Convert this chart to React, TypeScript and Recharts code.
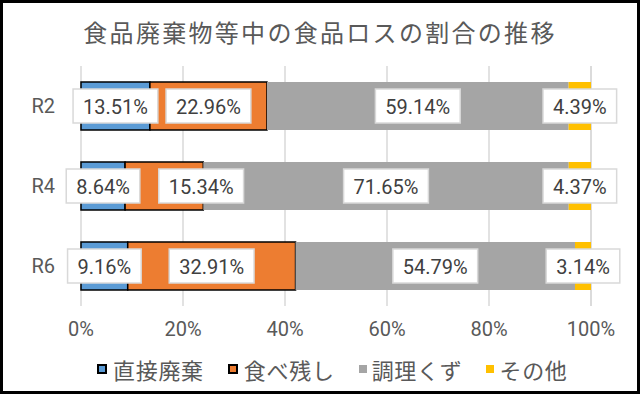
import React from "react";
import { BarChart, Bar, XAxis, YAxis, CartesianGrid, LabelList } from "recharts";

// 食品廃棄物等中の食品ロスの割合（%）
const categories = ["R2", "R4", "R6"];
const directWaste = [13.51, 8.64, 9.16];
const leftovers = [22.96, 15.34, 32.91];
const trimmings = [59.14, 71.65, 54.79];
const others = [4.39, 4.37, 3.14];
const xTicks = [0, 20, 40, 60, 80, 100];
const seriesNames = ["直接廃棄", "食べ残し", "調理くず", "その他"];
const seriesKeys = ["direct", "leftover", "trim", "other"];
const seriesColors = ["#5B9BD5", "#ED7D31", "#A5A5A5", "#FFC000"];
const seriesOutlined = [true, true, false, false];

const data = categories.map((name, i) => ({
  name,
  direct: directWaste[i],
  leftover: leftovers[i],
  trim: trimmings[i],
  other: others[i],
}));

const JP_FONT = "'Noto Sans CJK JP', sans-serif";
const NUM_FONT = "Roboto, sans-serif";

// the R4 食べ残し label was dragged right in the original so it doesn't hit 8.64%
const labelNudge: Record<string, number> = { "leftover-1": 37 };

const makeBoxLabel = (key: string) => (props: any) => {
  const { x, y, width, height, value, index } = props;
  const text = `${Number(value).toFixed(2)}%`;
  const digits = text.replace(/[^0-9]/g, "").length;
  const cx = Number(x) + Number(width) / 2 + (labelNudge[`${key}-${index}`] || 0);
  const cy = Number(y) + Number(height) / 2;
  const w = digits * 11.2 + 5.3 + 14.7 + 20;
  const h = 34;
  return (
    <g>
      <rect x={cx - w / 2} y={cy - h / 2} width={w} height={h} fill="#fff" stroke="#D9D9D9" strokeWidth={1.5} />
      <text x={cx} y={cy + 1} textAnchor="middle" dominantBaseline="central" fontFamily={NUM_FONT} fontSize={20} fill="#404040">
        {text}
      </text>
    </g>
  );
};

export default function App() {
  return (
    <div
      style={{
        position: "absolute",
        left: 0,
        top: 0,
        width: 640,
        height: 394,
        boxSizing: "border-box",
        border: "3px solid #000",
        background: "#fff",
      }}
    >
      <div
        style={{
          position: "absolute",
          top: 16,
          left: 0,
          width: 634,
          textAlign: "center",
          fontFamily: JP_FONT,
          fontSize: 24,
          letterSpacing: 2.3,
          lineHeight: "26px",
          color: "#595959",
        }}
      >
        食品廃棄物等中の食品ロスの割合の推移
      </div>

      <BarChart
        width={634}
        height={388}
        data={data}
        layout="vertical"
        margin={{ top: 63, right: 46, bottom: 0, left: 0 }}
        barSize={48}
      >
        <CartesianGrid horizontal={false} stroke="#D9D9D9" strokeWidth={1.5} />
        <XAxis
          type="number"
          domain={[0, 100]}
          ticks={xTicks}
          tickFormatter={(v) => `${v}%`}
          axisLine={false}
          tickLine={false}
          tickSize={0}
          tickMargin={16}
          height={85}
          tick={{ fill: "#595959", fontSize: 20, fontFamily: NUM_FONT }}
        />
        <YAxis
          type="category"
          dataKey="name"
          width={78}
          axisLine={false}
          tickLine={false}
          tickSize={0}
          tickMargin={26}
          tick={{ fill: "#595959", fontSize: 20, fontFamily: NUM_FONT }}
        />
        {seriesKeys.map((key, i) => (
          <Bar
            key={key}
            dataKey={key}
            name={seriesNames[i]}
            stackId="a"
            fill={seriesColors[i]}
            stroke={seriesOutlined[i] ? "#000" : "none"}
            strokeWidth={seriesOutlined[i] ? 1.5 : 0}
            isAnimationActive={false}
          >
            <LabelList dataKey={key} content={makeBoxLabel(key)} />
          </Bar>
        ))}
      </BarChart>

      <div
        style={{
          position: "absolute",
          top: 354,
          left: 94,
          display: "flex",
          alignItems: "center",
          fontFamily: JP_FONT,
          fontSize: 22,
          letterSpacing: 0.7,
          lineHeight: "24px",
          color: "#595959",
          whiteSpace: "nowrap",
        }}
      >
        {seriesNames.map((n, i) => (
          <div key={n} style={{ display: "flex", alignItems: "center", marginRight: 24 }}>
            <span
              style={{
                display: "inline-block",
                boxSizing: "border-box",
                width: seriesOutlined[i] ? 10 : 8,
                height: seriesOutlined[i] ? 10 : 8,
                background: seriesColors[i],
                border: seriesOutlined[i] ? "2px solid #000" : "none",
                marginRight: seriesOutlined[i] ? 6 : 5,
              }}
            />
            <span>{n}</span>
          </div>
        ))}
      </div>
    </div>
  );
}
